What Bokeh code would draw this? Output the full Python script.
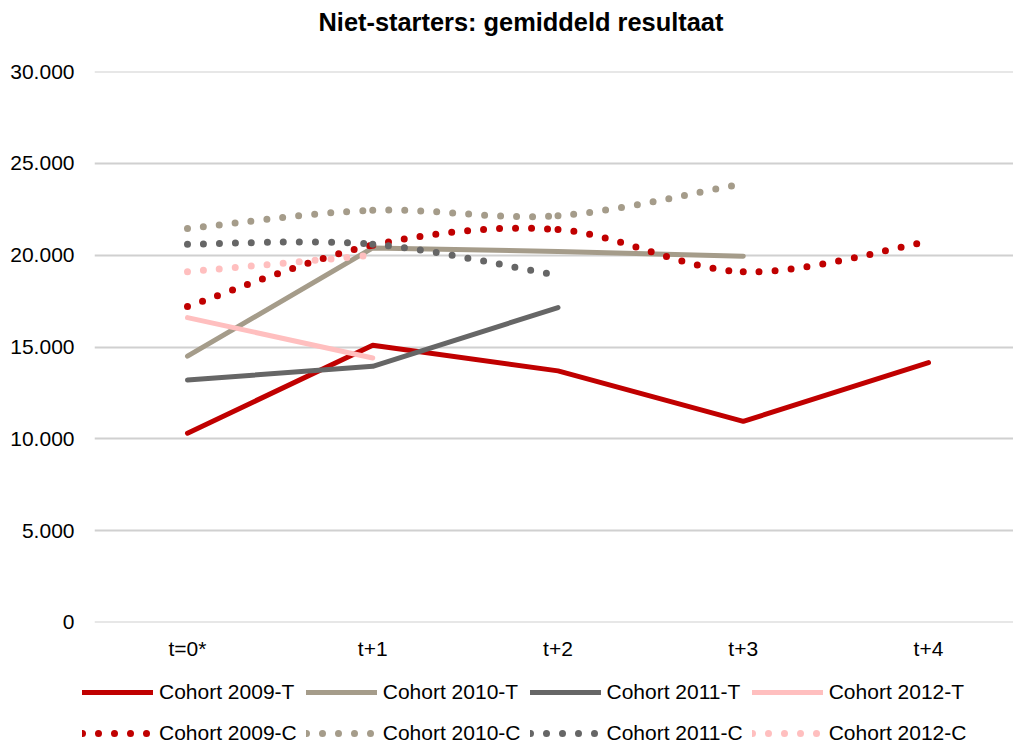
from bokeh.plotting import figure
from bokeh.layouts import column
from bokeh.models import Range1d, FixedTicker, Legend, LegendItem, Title, ColumnDataSource
from bokeh.embed import file_html
from bokeh.resources import INLINE

# ---------------- data ----------------
categories = ["t=0*", "t+1", "t+2", "t+3", "t+4"]
y_ticks = [0, 5000, 10000, 15000, 20000, 25000, 30000]
y_tick_labels = ["0", "5.000", "10.000", "15.000", "20.000", "25.000", "30.000"]

cohort_2009_T = [10300, 15100, 13700, 10950, 14150]
cohort_2010_T = [14500, 20400, 20200, 19950]
cohort_2011_T = [13200, 13950, 17150]
cohort_2012_T = [16600, 14400]

cohort_2009_C = [17200, 20550, 21400, 19100, 20750]
cohort_2010_C = [21450, 22450, 22150, 23900]
cohort_2011_C = [20600, 20600, 18900]
cohort_2012_C = [19100, 20000]

names_T = ["Cohort 2009-T", "Cohort 2010-T", "Cohort 2011-T", "Cohort 2012-T"]
names_C = ["Cohort 2009-C", "Cohort 2010-C", "Cohort 2011-C", "Cohort 2012-C"]
colors = ["#C00000", "#A59C8A", "#666666", "#FFBFBF"]

series_T = [cohort_2009_T, cohort_2010_T, cohort_2011_T, cohort_2012_T]
series_C = [cohort_2009_C, cohort_2010_C, cohort_2011_C, cohort_2012_C]

FONT = "Liberation Sans"
SOLID = dict(line_width=5, line_cap="round", line_join="round")
DOTTED = dict(line_width=7, line_cap="round", line_dash="0 16")

# ---------------- main chart ----------------
p = figure(width=1013, height=662, output_backend="svg", toolbar_location=None,
           x_range=Range1d(-0.502, 4.4588), y_range=Range1d(-10, 30010),
           min_border_left=94, min_border_right=0, min_border_top=71, min_border_bottom=39)
p.frame_align = False
p.background_fill_color = "white"
p.border_fill_color = "white"
p.outline_line_color = None

title = Title(text="Niet-starters: gemiddeld resultaat\n", align="left", offset=224,
              text_font=FONT, text_font_size="25.4px", text_font_style="bold",
              text_color="black", standoff=2, text_line_height=1.235)
p.add_layout(title, "above")

p.xaxis.ticker = FixedTicker(ticks=list(range(len(categories))))
p.xaxis.major_label_overrides = {i: c for i, c in enumerate(categories)}
p.yaxis.ticker = FixedTicker(ticks=y_ticks)
p.yaxis.major_label_overrides = {t: l for t, l in zip(y_ticks, y_tick_labels)}
for ax in (p.xaxis[0], p.yaxis[0]):
    ax.axis_line_color = None
    ax.major_tick_line_color = None
    ax.minor_tick_line_color = None
    ax.major_tick_out = 0
    ax.major_tick_in = 0
    ax.major_label_text_font = FONT
    ax.major_label_text_font_size = "21px"
    ax.major_label_text_color = "black"
p.yaxis.major_label_standoff = 20
p.xaxis.major_label_standoff = 14

p.xgrid.grid_line_color = None
p.ygrid.grid_line_color = "#D0D0D0"
p.ygrid.grid_line_width = 2

for ys, col in zip(series_T, colors):
    p.line(list(range(len(ys))), ys, line_color=col, **SOLID)


def smooth_source(ys):
    pts = list(zip(range(len(ys)), ys))
    n = len(pts)
    d = dict(x0=[], y0=[], x1=[], y1=[], cx0=[], cy0=[], cx1=[], cy1=[])
    for i in range(n - 1):
        p0 = pts[i - 1] if i > 0 else pts[i]
        p1 = pts[i]
        p2 = pts[i + 1]
        p3 = pts[i + 2] if i + 2 < n else pts[i + 1]
        d["x0"].append(p1[0]); d["y0"].append(p1[1])
        d["x1"].append(p2[0]); d["y1"].append(p2[1])
        d["cx0"].append(p1[0] + (p2[0] - p0[0]) / 6.0)
        d["cy0"].append(p1[1] + (p2[1] - p0[1]) / 6.0)
        d["cx1"].append(p2[0] - (p3[0] - p1[0]) / 6.0)
        d["cy1"].append(p2[1] - (p3[1] - p1[1]) / 6.0)
    return ColumnDataSource(d)


for ys, col in zip(series_C, colors):
    p.bezier(x0="x0", y0="y0", x1="x1", y1="y1", cx0="cx0", cy0="cy0", cx1="cx1", cy1="cy1",
             source=smooth_source(ys), line_color=col, **DOTTED)

# ---------------- legend strip (series drawn out of view, only the legend shows) ----------------
lg = figure(width=1013, height=84, output_backend="svg", toolbar_location=None,
            x_range=Range1d(0, 1), y_range=Range1d(-2, -1),
            x_axis_location=None, y_axis_location=None,
            min_border_left=0, min_border_right=0, min_border_top=0, min_border_bottom=0)
lg.frame_align = False
lg.outline_line_color = None
lg.grid.visible = False
lg.background_fill_color = "white"
lg.border_fill_color = "white"

items = []
for name, ys, col in zip(names_T, series_T, colors):
    r = lg.line(list(range(len(ys))), ys, line_color=col, **SOLID)
    items.append(LegendItem(label=name, renderers=[r]))
for name, ys, col in zip(names_C, series_C, colors):
    r = lg.line(list(range(len(ys))), ys, line_color=col, **DOTTED)
    items.append(LegendItem(label=name, renderers=[r]))

legend = Legend(items=items, orientation="horizontal", ncols=4, location=(82, -3),
                glyph_width=71, glyph_height=32, label_height=32, label_standoff=6, spacing=9,
                padding=0, margin=0, border_line_color=None, background_fill_alpha=0,
                label_text_font=FONT, label_text_font_size="21px", label_text_color="black")
lg.add_layout(legend, "center")

layout = column(p, lg, spacing=0)
open("out.html", "w").write(file_html(layout, INLINE))
